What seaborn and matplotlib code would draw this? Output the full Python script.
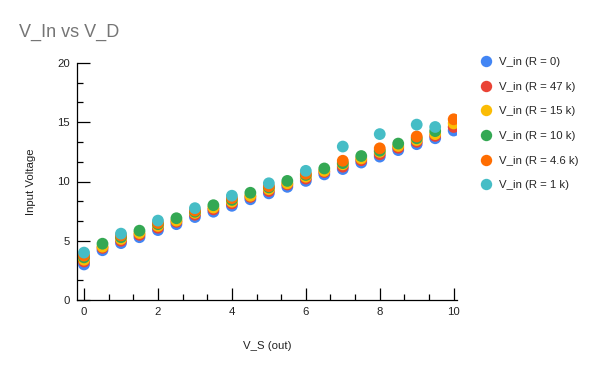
import numpy as np
import pandas as pd
import matplotlib
matplotlib.use("Agg")
import matplotlib.pyplot as plt
import seaborn as sns
from matplotlib.ticker import MultipleLocator, AutoMinorLocator

x_vals = [0, 0.5, 1, 1.5, 2, 2.5, 3, 3.5, 4, 4.5, 5, 5.5, 6, 6.5, 7, 7.5, 8, 8.5, 9, 9.5, 10]
nan = np.nan
r0 = [3.0, 4.2, 4.8, 5.3, 5.9, 6.4, 7.0, 7.45, 7.95, 8.5, 9.0, 9.55, 10.05, 10.6, 11.05, 11.6, 12.1, 12.65, 13.15, 13.65, 14.3]
r47k = [3.25, 4.4, 5.0, 5.5, 6.1, 6.6, 7.2, 7.65, 8.15, 8.7, 9.2, 9.75, 10.25, 10.8, 11.25, 11.8, 12.3, 12.85, 13.35, 13.85, 14.6]
r15k = [3.4, 4.5, 5.15, 5.65, 6.25, 6.7, 7.35, 7.8, 8.3, 8.8, 9.35, 9.85, 10.4, 10.9, 11.45, 11.95, 12.5, 13.0, 13.5, 14.0, 14.9]
r10k = [3.6, 4.75, 5.3, 5.85, 6.4, 6.9, 7.45, 8.0, 8.45, 9.05, 9.5, 10.05, 10.55, 11.1, 11.55, 12.15, 12.6, 13.2, 13.65, 14.25, nan]
r4_6k = [3.75, nan, 5.45, nan, 6.5, nan, 7.55, nan, 8.6, nan, 9.6, nan, 10.65, nan, 11.75, nan, 12.8, nan, 13.8, nan, 15.25]
r1k = [4.0, nan, 5.6, nan, 6.7, nan, 7.75, nan, 8.8, nan, 9.85, nan, 10.9, nan, 12.95, nan, 14.0, nan, 14.8, 14.6, nan]

labels = ["V_in (R = 0)", "V_in (R = 47 k)", "V_in (R = 15 k)", "V_in (R = 10 k)",
          "V_in (R = 4.6 k)", "V_in (R = 1 k)"]
colors = ["#4285F4", "#EA4335", "#FBBC04", "#34A853", "#FF6D01", "#46BDC6"]
series = [r0, r47k, r15k, r10k, r4_6k, r1k]

frames = []
for lab, vals in zip(labels, series):
    frames.append(pd.DataFrame({"V_S": x_vals, "V_in": vals, "series": lab}))
df = pd.concat(frames, ignore_index=True).dropna()

sns.set_theme(style="white")
plt.rcParams['font.family'] = ['Liberation Sans', 'DejaVu Sans']

fig = plt.figure(figsize=(6.01, 3.72), dpi=100)
ax = fig.add_axes([77/601, 1 - 300/372, 380/601, 237/372])

sns.scatterplot(data=df, x="V_S", y="V_in", hue="series", hue_order=labels,
                palette=colors, s=72, linewidth=0, ax=ax, legend=True)

ax.set_xlim(-0.19, 10.09)
ax.set_ylim(0, 20)
ax.xaxis.set_major_locator(MultipleLocator(2))
ax.xaxis.set_minor_locator(AutoMinorLocator(3))
ax.yaxis.set_major_locator(MultipleLocator(5))
ax.yaxis.set_minor_locator(AutoMinorLocator(3))
ax.tick_params(axis="both", which="major", direction="in", length=9, width=0.9,
               color="black", labelsize=8.2, labelcolor="#222222", pad=5, left=True, bottom=True)
ax.tick_params(axis="both", which="minor", direction="in", length=4.5, width=0.9,
               color="black", left=True, bottom=True)
for side in ["top", "right"]:
    ax.spines[side].set_visible(False)
for side in ["left", "bottom"]:
    ax.spines[side].set_color("black")
    ax.spines[side].set_linewidth(0.9)

ax.set_xlabel("V_S (out)", fontsize=8.2, color="#222222", labelpad=17)
ax.set_ylabel("Input Voltage", fontsize=8.2, color="#222222", labelpad=15)

fig.text(19/601, 1 - 32/372, "V_In vs V_D", fontsize=13, color="#757575",
         ha="left", va="center")

leg = ax.legend(loc="upper left", bbox_to_anchor=(480/601, 1 - 57/372),
                bbox_transform=fig.transFigure, frameon=False, fontsize=8.2,
                labelspacing=1.29, handlelength=1.0, handletextpad=0.64,
                borderaxespad=0, borderpad=0, markerscale=1.0)
for h in leg.legend_handles:
    if hasattr(h, "set_markersize"):
        h.set_markersize(8.2)

fig.savefig("out.png", dpi=100)
